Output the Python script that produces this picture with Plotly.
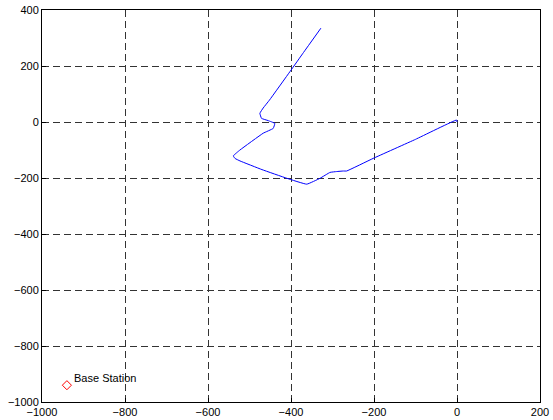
import plotly.graph_objects as go

path_x = [0, -1, -100, -202, -266, -274, -290, -306, -330, -362, -410, -470, -523, -535, -539, -523, -467, -443, -439, -455, -471, -475, -467, -452, -402, -370, -328]
path_y = [0, 7, -62, -130, -175, -175, -177, -180, -201, -222, -201, -170, -139, -130, -121, -100, -40, -23, -5, 5, 13, 31, 50, 78, 181, 248, 335]

base_x = [-940]
base_y = [-940]
base_label = "Base Station"

x_ticks = [-1000, -800, -600, -400, -200, 0, 200]
y_ticks = [-1000, -800, -600, -400, -200, 0, 200, 400]

fig = go.Figure()
fig.add_trace(go.Scatter(x=path_x, y=path_y, mode="lines",
                         line=dict(color="#0000ff", width=1, shape="spline", smoothing=0.3),
                         showlegend=False))
fig.add_trace(go.Scatter(x=base_x, y=base_y, mode="markers",
                         marker=dict(symbol="diamond-open", color="#ff0000", size=7, line=dict(width=1)),
                         showlegend=False))
fig.add_annotation(x=base_x[0], y=base_y[0], text=base_label, showarrow=False,
                   xanchor="left", yanchor="middle", xshift=5, yshift=7,
                   font=dict(family="Arial, Liberation Sans", size=11, color="black"))

axis_common = dict(showline=True, linecolor="black", linewidth=1, mirror=True,
                   showgrid=True, gridcolor="#333333", griddash="7px,4px", gridwidth=1,
                   zeroline=False, ticks="inside", ticklen=4, tickcolor="black",
                   automargin=False,
                   tickfont=dict(family="Arial, Liberation Sans", size=11, color="black"))

fig.update_xaxes(range=[-1000, 200], tickvals=x_ticks, **axis_common)
fig.update_yaxes(range=[-1000, 400], tickvals=y_ticks, **axis_common)

fig.update_layout(width=553, height=420, plot_bgcolor="white", paper_bgcolor="white",
                  margin=dict(l=42, r=13, t=10, b=18, autoexpand=False))

fig.write_html("out.html", config={"displayModeBar": False},
               post_script="document.body.style.margin='0';document.body.style.overflow='hidden';")
